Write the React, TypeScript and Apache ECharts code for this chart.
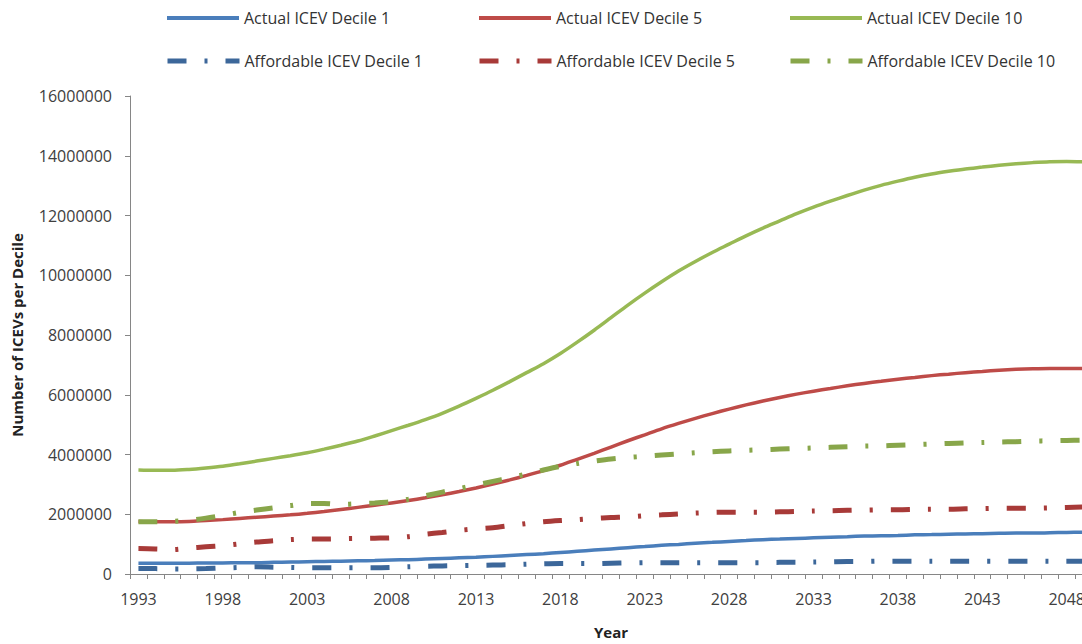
import React, { useEffect, useRef } from "react";
import * as echarts from "echarts";

const years: string[] = [];
for (let y = 1993; y <= 2049; y++) years.push(String(y));

const M = 1000000;
// values in millions
const actualD1 = [0.36, 0.36, 0.36, 0.36, 0.37, 0.37, 0.38, 0.38, 0.39, 0.40, 0.41, 0.42, 0.43, 0.44, 0.45, 0.47, 0.48, 0.50, 0.52, 0.54, 0.56, 0.59, 0.62, 0.65, 0.68, 0.72, 0.76, 0.80, 0.84, 0.88, 0.92, 0.96, 0.99, 1.03, 1.06, 1.09, 1.12, 1.15, 1.17, 1.19, 1.21, 1.23, 1.25, 1.27, 1.28, 1.29, 1.31, 1.32, 1.33, 1.34, 1.35, 1.36, 1.37, 1.37, 1.38, 1.39, 1.40];
const actualD5 = [1.76, 1.75, 1.75, 1.76, 1.79, 1.82, 1.86, 1.90, 1.94, 1.98, 2.03, 2.09, 2.16, 2.23, 2.30, 2.38, 2.46, 2.55, 2.65, 2.76, 2.88, 3.01, 3.15, 3.30, 3.46, 3.64, 3.84, 4.04, 4.25, 4.46, 4.66, 4.86, 5.04, 5.21, 5.37, 5.52, 5.66, 5.79, 5.91, 6.02, 6.12, 6.21, 6.30, 6.38, 6.45, 6.52, 6.58, 6.64, 6.69, 6.74, 6.78, 6.82, 6.85, 6.87, 6.88, 6.88, 6.88];
const actualD10 = [3.48, 3.47, 3.47, 3.50, 3.55, 3.61, 3.69, 3.78, 3.87, 3.96, 4.06, 4.18, 4.31, 4.45, 4.62, 4.80, 4.98, 5.17, 5.38, 5.62, 5.88, 6.15, 6.44, 6.74, 7.04, 7.38, 7.76, 8.16, 8.58, 9.00, 9.40, 9.78, 10.14, 10.46, 10.76, 11.04, 11.32, 11.58, 11.82, 12.06, 12.28, 12.48, 12.67, 12.85, 13.01, 13.15, 13.28, 13.39, 13.48, 13.56, 13.62, 13.68, 13.73, 13.77, 13.80, 13.81, 13.80];
const affordD1 = [0.18, 0.18, 0.17, 0.17, 0.18, 0.20, 0.22, 0.24, 0.23, 0.22, 0.21, 0.21, 0.21, 0.21, 0.21, 0.22, 0.24, 0.26, 0.27, 0.28, 0.29, 0.30, 0.31, 0.33, 0.34, 0.35, 0.35, 0.35, 0.36, 0.37, 0.38, 0.38, 0.38, 0.38, 0.38, 0.38, 0.38, 0.38, 0.39, 0.39, 0.40, 0.41, 0.42, 0.42, 0.43, 0.43, 0.43, 0.43, 0.43, 0.43, 0.43, 0.43, 0.43, 0.43, 0.43, 0.43, 0.43];
const affordD5 = [0.85, 0.84, 0.82, 0.87, 0.91, 0.95, 1.01, 1.07, 1.11, 1.15, 1.17, 1.17, 1.18, 1.19, 1.20, 1.21, 1.25, 1.33, 1.39, 1.46, 1.51, 1.55, 1.62, 1.69, 1.75, 1.79, 1.82, 1.86, 1.89, 1.91, 1.95, 1.98, 2.01, 2.04, 2.06, 2.07, 2.07, 2.07, 2.08, 2.09, 2.11, 2.12, 2.13, 2.14, 2.15, 2.15, 2.16, 2.17, 2.17, 2.18, 2.19, 2.20, 2.20, 2.20, 2.21, 2.23, 2.24];
const affordD10 = [1.75, 1.75, 1.76, 1.80, 1.87, 1.96, 2.06, 2.14, 2.21, 2.29, 2.36, 2.36, 2.33, 2.35, 2.38, 2.42, 2.50, 2.62, 2.74, 2.86, 2.98, 3.10, 3.22, 3.35, 3.48, 3.60, 3.70, 3.78, 3.85, 3.90, 3.94, 3.98, 4.02, 4.06, 4.09, 4.12, 4.14, 4.16, 4.18, 4.20, 4.22, 4.24, 4.26, 4.28, 4.29, 4.31, 4.33, 4.35, 4.37, 4.39, 4.40, 4.42, 4.43, 4.45, 4.46, 4.47, 4.48];

const yTicks = [0, 2000000, 4000000, 6000000, 8000000, 10000000, 12000000, 14000000, 16000000];

const seriesDefs = [
  { name: "Actual ICEV Decile 1", data: actualD1, color: "#4A7EBB", dashed: false },
  { name: "Actual ICEV Decile 5", data: actualD5, color: "#BE4B48", dashed: false },
  { name: "Actual ICEV Decile 10", data: actualD10, color: "#98B954", dashed: false },
  { name: "Affordable ICEV Decile 1", data: affordD1, color: "#3C679A", dashed: true },
  { name: "Affordable ICEV Decile 5", data: affordD5, color: "#A83A38", dashed: true },
  { name: "Affordable ICEV Decile 10", data: affordD10, color: "#88A64A", dashed: true },
];

const legendPos = [
  { left: 165, top: 10 },
  { left: 477, top: 10 },
  { left: 788, top: 10 },
  { left: 165, top: 53 },
  { left: 477, top: 53 },
  { left: 788, top: 53 },
];

const FONT = "'Open Sans', sans-serif";

export default function App() {
  const ref = useRef<HTMLDivElement>(null);
  useEffect(() => {
    if (!ref.current) return;
    const chart = echarts.init(ref.current, undefined, { renderer: "svg" });
    const dashPattern = [19, 18, 3, 18];
    chart.setOption({
      animation: false,
      backgroundColor: "#ffffff",
      textStyle: { fontFamily: FONT },
      legend: seriesDefs.map((s, i) => ({
        data: [s.name],
        left: legendPos[i].left,
        top: legendPos[i].top,
        padding: 0,
        itemWidth: 72,
        itemHeight: 20,
        selectedMode: false,
        itemStyle: { opacity: 0, color: "rgba(0,0,0,0)", borderWidth: 0 },
        lineStyle: s.dashed
          ? { width: 5, type: dashPattern, color: s.color, cap: "butt" }
          : { width: 4, type: "solid", color: s.color },
        textStyle: { fontFamily: FONT, fontSize: 16, color: "#333333" },
      })),
      grid: { left: 130, top: 96, bottom: 66, right: 8 },
      xAxis: {
        type: "category",
        data: years,
        boundaryGap: true,
        name: "Year",
        nameLocation: "middle",
        nameGap: 50,
        nameTextStyle: { fontFamily: FONT, fontSize: 15, fontWeight: "bold", color: "#222" },
        axisLine: { show: true, lineStyle: { color: "#868686", width: 1 } },
        axisTick: { show: true, interval: 0, length: 5, lineStyle: { color: "#868686" } },
        axisLabel: { interval: 4, margin: 17, fontFamily: FONT, fontSize: 16, color: "#404040" },
        splitLine: { show: false },
      },
      yAxis: {
        type: "value",
        min: yTicks[0],
        max: yTicks[yTicks.length - 1],
        interval: yTicks[1] - yTicks[0],
        name: "Number of ICEVs per Decile",
        nameLocation: "middle",
        nameGap: 106,
        nameRotate: 90,
        nameTextStyle: { fontFamily: FONT, fontSize: 15, fontWeight: "bold", color: "#222" },
        axisLine: { show: true, lineStyle: { color: "#868686", width: 1 } },
        axisTick: { show: true, length: 5, lineStyle: { color: "#868686" } },
        axisLabel: { margin: 18, fontFamily: FONT, fontSize: 16, color: "#404040", formatter: (v: number) => String(v) },
        splitLine: { show: false },
      },
      series: seriesDefs.map((s) => ({
        name: s.name,
        type: "line",
        data: s.data.map((v) => Math.round(v * M)),
        symbol: "none",
        smooth: 0.3,
        color: s.color,
        lineStyle: s.dashed
          ? { color: s.color, width: 5, type: dashPattern, cap: "butt" }
          : { color: s.color, width: 3.5 },
      })),
    });
    return () => chart.dispose();
  }, []);
  return (
    <div style={{ position: "fixed", left: 0, top: 0, width: 1082, height: 644, overflow: "hidden", background: "#fff" }}>
      <div ref={ref} style={{ width: 1100, height: 644 }} />
    </div>
  );
}
